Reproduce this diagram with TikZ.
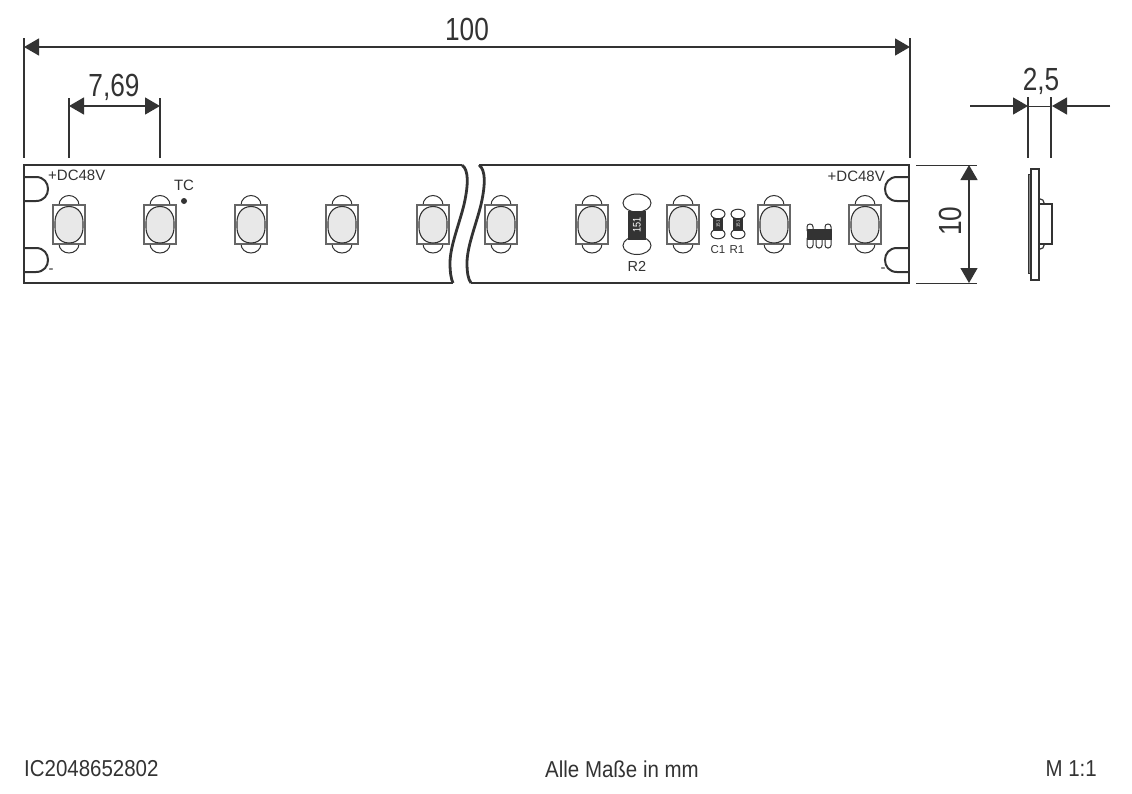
\documentclass[tikz,border=0pt]{standalone}
\usepackage{fontspec}
\setmainfont{Liberation Sans}
\newfontfamily\narrowfont[FakeStretch=0.82]{Liberation Sans}
\newfontfamily\bottomfont[FakeStretch=0.89]{Liberation Sans}
\usetikzlibrary{arrows.meta}
\definecolor{ink}{HTML}{333333}
\definecolor{lens}{HTML}{E8E8E8}
\definecolor{boxgrey}{HTML}{666666}
\tikzset{
  stripline/.style={draw=ink,line width=2.8pt,line join=miter},
  thinline/.style={draw=ink,line width=1pt},
  dimline/.style={draw=ink,line width=1.3pt},
  dimhead/.style={{Triangle[length=15pt,width=17pt,color=ink]}-{Triangle[length=15pt,width=17pt,color=ink]}},
  dimtip/.style={-{Triangle[length=15pt,width=17pt,color=ink]}},
  dimtxt/.style={inner sep=0pt,font=\fontsize{32}{32}\selectfont\narrowfont,text=ink},
  small/.style={inner sep=0pt,font=\fontsize{15}{15}\selectfont,text=ink},
  tiny/.style={inner sep=0pt,font=\fontsize{11.5}{12}\selectfont,text=ink},
  foot/.style={inner sep=0pt,font=\fontsize{23}{23}\selectfont\bottomfont,text=ink},
  led/.pic={
    \draw[thinline] (-10,-19) arc[start angle=180,end angle=360,x radius=10,y radius=9.5];
    \draw[thinline] (-10,20) arc[start angle=180,end angle=0,x radius=10,y radius=9];
    \draw[draw=boxgrey,line width=1.3pt,fill=white] (-16,-19) rectangle (16,20);
    \draw[draw=ink,line width=1.1pt,fill=lens] (0,-17.5)
       .. controls (10,-17.5) and (14,-9) .. (14,-2) -- (14,3.5)
       .. controls (14,10.5) and (10,19) .. (0,19)
       .. controls (-10,19) and (-14,10.5) .. (-14,3.5) -- (-14,-2)
       .. controls (-14,-9) and (-10,-17.5) .. (0,-17.5) -- cycle;
  },
  chip/.pic={
    \draw[thinline,fill=white] (0,-10) ellipse[x radius=7,y radius=4.8];
    \draw[thinline,fill=white] (0,10) ellipse[x radius=7,y radius=4.8];
    \fill[ink] (-5,-6.5) rectangle (5,6.5);
    \node[rotate=90,white,inner sep=0pt,font=\fontsize{4.5}{5}\selectfont] at (0,0) {151};
  }
}
\begin{document}
\begin{tikzpicture}[x=1pt,y=-1pt]
\useasboundingbox (0,0) rectangle (1132,793);
\fill[white] (0,0) rectangle (1132,793);

% LEDs
\foreach \xx in {69,160,251,342,433,501,592,683,774,865}
  \pic at (\xx,224) {led};

% strip outline
\draw[stripline] (462,165) -- (24,165) -- (24,283) -- (453,283);
\draw[stripline] (462,165) .. controls (469,170) and (468,185) .. (465,200)
   .. controls (461,220) and (450,245) .. (450,263)
   .. controls (450,272) and (451,279) .. (453,283);
\draw[stripline] (479,165) .. controls (486,170) and (485,185) .. (482,200)
   .. controls (478,220) and (467,245) .. (467,263)
   .. controls (467,272) and (468,279) .. (471,283);
\draw[stripline] (479,165) -- (909,165) -- (909,283) -- (471,283);

% notches
\draw[draw=ink,line width=2pt] (24,177) -- (36,177) .. controls (44,177) and (48,183) .. (48,189) .. controls (48,195) and (44,201) .. (36,201) -- (24,201);
\draw[draw=ink,line width=2pt] (24,248) -- (36,248) .. controls (44,248) and (48,254) .. (48,260) .. controls (48,266) and (44,272) .. (36,272) -- (24,272);
\draw[draw=ink,line width=2pt] (909,177) -- (897,177) .. controls (889,177) and (885,183) .. (885,189) .. controls (885,195) and (889,201) .. (897,201) -- (909,201);
\draw[draw=ink,line width=2pt] (909,248) -- (897,248) .. controls (889,248) and (885,254) .. (885,260) .. controls (885,266) and (889,272) .. (897,272) -- (909,272);

% strip labels
\node[small,anchor=west] (dcl) at (48,175) {+DC48V};
\node[small,anchor=east] (dcr) at (885,176) {+DC48V};
\node[small] (tc) at (184,185) {TC};
\fill[ink] (184,201) circle (3);
\node[small] (ml) at (51,271) {-};
\node[small] (mr) at (883,270) {-};

% R2
\draw[thinline,fill=white] (637,203) ellipse[x radius=14,y radius=9];
\draw[thinline,fill=white] (637,245.5) ellipse[x radius=14,y radius=9];
\fill[ink] (628,211) rectangle (646,240);
\node[rotate=90,white,inner sep=0pt,font=\fontsize{11}{11}\selectfont\narrowfont] (v151) at (637,225) {151};
\node[inner sep=0pt,font=\fontsize{14.5}{15}\selectfont,text=ink] (r2) at (637,266) {R2};

% C1, R1
\pic at (718,224) {chip};
\pic at (738,224) {chip};
\node[tiny] (c1) at (718,250) {C1};
\node[tiny] (r1) at (737,250) {R1};

% IC
\foreach \xx in {810,828}
  \draw[thinline,fill=white,rounded corners=2.8pt] (\xx-3,224) rectangle (\xx+3,233);
\foreach \xx in {810,819,828}
  \draw[thinline,fill=white,rounded corners=2.8pt] (\xx-3,236) rectangle (\xx+3,248);
\fill[ink] (807,229) rectangle (832,240);

% side view
\draw[draw=ink,line width=1pt,fill=black!45] (1028,174) rectangle (1031,273);
\draw[draw=ink,line width=1.2pt] (1039,198.5) arc[start angle=-90,end angle=0,radius=5.5];
\draw[draw=ink,line width=1.2pt] (1039,249.5) arc[start angle=90,end angle=0,radius=5.5];
\draw[draw=ink,line width=1.5pt,fill=white] (1039,204) rectangle (1052,244);
\draw[draw=ink,line width=1.8pt,fill=white] (1031,169) rectangle (1039,280);

% dimension anchors
\coordinate (a1) at (24,47);  \coordinate (a2) at (910,47);
\coordinate (b1) at (69,106); \coordinate (b2) at (160,106);
\coordinate (c0) at (970,106);\coordinate (c1a) at (1028,106);
\coordinate (c2a) at (1052,106);\coordinate (c3) at (1110,106);
\coordinate (d1) at (969,165);\coordinate (d2) at (969,283);

% extension lines
\draw[dimline] (24,38) -- (24,158);
\draw[dimline] (910,38) -- (910,158);
\draw[dimline] (69,98) -- (69,158);
\draw[dimline] (160,98) -- (160,158);
\draw[dimline] (1028,97) -- (1028,158);
\draw[dimline] (1051,97) -- (1051,158);
\draw[thinline] (916,165) -- (977,165);
\draw[thinline] (916,283) -- (977,283);

% dimension lines
\draw[dimline,dimhead] (a1) -- (a2);
\draw[dimline,dimhead] (b1) -- (b2);
\draw[dimline,dimhead] (d1) -- (d2);
\draw[dimline,dimtip] (c0) -- (c1a);
\draw[dimline,dimtip] (c3) -- (c2a);
\draw[thinline] (c1a) -- (c2a);

% dimension text
\node[dimtxt] (t100) at (467,29) {100};
\node[dimtxt] (t769) at (114,87) {7,69};
\node[dimtxt] (t25) at (1041,81) {2,5};
\node[dimtxt,rotate=90] (t10) at (950,221) {10};

% footer
\node[foot,anchor=west] (f1) at (24,769) {IC2048652802};
\node[foot] (f2) at (622,769) {Alle Maße in mm};
\node[foot,anchor=east] (f3) at (1097,769) {M 1:1};
\end{tikzpicture}
\end{document}
